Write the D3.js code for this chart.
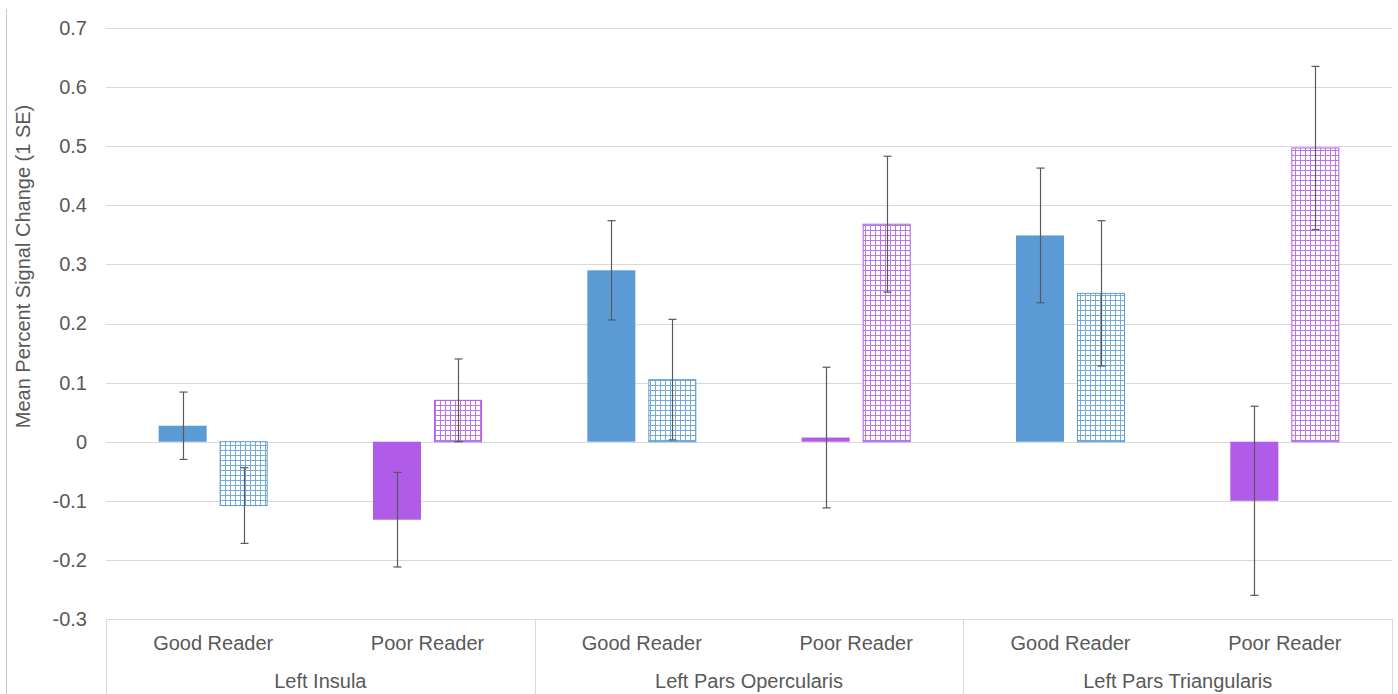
<!DOCTYPE html>
<html>
<head>
<meta charset="utf-8">
<script src="https://cdn.jsdelivr.net/npm/d3@7/dist/d3.min.js"></script>
<style>
  html, body { margin: 0; padding: 0; background: #fff; }
  svg { display: block; font-family: "Liberation Sans", Arial, sans-serif; }
</style>
</head>
<body>
<svg id="chart" width="1398" height="694"></svg>
<script>
// Regions of interest and reader groups
const regions = ["Left Insula", "Left Pars Opercularis", "Left Pars Triangularis"];
const groups = ["Good Reader", "Poor Reader"];
const conditions = ["solid", "grid"];

// Mean percent signal change, ordered region → group → condition
const means = [
  [[0.027, -0.108], [-0.132, 0.070]],
  [[0.290, 0.105], [0.007, 0.368]],
  [[0.349, 0.251], [-0.100, 0.497]]
];
// Standard errors, same ordering
const errors = [
  [[0.057, 0.064], [0.080, 0.070]],
  [[0.084, 0.102], [0.119, 0.115]],
  [[0.114, 0.123], [0.160, 0.138]]
];

const yTicks = [-0.3, -0.2, -0.1, 0, 0.1, 0.2, 0.3, 0.4, 0.5, 0.6, 0.7];

const W = 1398, H = 694;
const plot = { left: 106, right: 1392, top: 28, bottom: 619 };
const groupColor = { "Good Reader": "#5b9bd5", "Poor Reader": "#b05ce8" };
const textColor = "#595959";
const gridColor = "#d9d9d9";
const fontSize = 20;

const svg = d3.select("#chart");

// Grid fill patterns for the second condition
const defs = svg.append("defs");
groups.forEach((g, i) => {
  const p = defs.append("pattern")
    .attr("id", "grid" + i)
    .attr("patternUnits", "userSpaceOnUse")
    .attr("width", 5).attr("height", 5);
  p.append("rect").attr("width", 5).attr("height", 5).attr("fill", "#fff");
  p.append("path")
    .attr("d", "M0,0.5H5M0.5,0V5")
    .attr("stroke", groupColor[g])
    .attr("stroke-opacity", 0.85)
    .attr("stroke-width", 1)
    .attr("shape-rendering", "crispEdges");
});

const y = d3.scaleLinear().domain([-0.3, 0.7]).range([plot.bottom, plot.top]);
const xRegion = d3.scaleBand().domain(regions).range([plot.left, plot.right]);
const xGroup = d3.scaleBand().domain(groups).range([0, xRegion.bandwidth()]);
const gw = xGroup.bandwidth();
const xCond = d3.scaleBand().domain(conditions)
  .range([gw / 2 - 54.5, gw / 2 + 54.5]).paddingInner(0.213);

// Outer left border of the chart area
svg.append("line")
  .attr("x1", 6.5).attr("x2", 6.5).attr("y1", 9).attr("y2", H)
  .attr("stroke", "#c8c8c8").attr("stroke-width", 1);

// Horizontal gridlines
svg.append("g").selectAll("line")
  .data(yTicks.filter(t => t !== -0.3))
  .join("line")
  .attr("x1", plot.left).attr("x2", plot.right)
  .attr("y1", d => Math.round(y(d)) + 0.5).attr("y2", d => Math.round(y(d)) + 0.5)
  .attr("stroke", gridColor).attr("stroke-width", 1);

// Y axis tick labels (plain hyphen for negatives)
const yAxis = d3.axisLeft(y).tickValues(yTicks).tickSize(0).tickPadding(0)
  .tickFormat(d => d === 0 ? "0" : d3.format(".1f")(d).replace("\u2212", "-"));
const yg = svg.append("g").attr("transform", `translate(${plot.left - 19},0)`).call(yAxis);
yg.select(".domain").remove();
yg.selectAll("text")
  .attr("fill", textColor).attr("font-size", fontSize)
  .attr("font-family", "Liberation Sans, Arial, sans-serif");

// Y axis title
svg.append("text")
  .attr("transform", `translate(30,${(plot.top + plot.bottom) / 2 - 57}) rotate(-90)`)
  .attr("text-anchor", "middle")
  .attr("fill", textColor).attr("font-size", fontSize)
  .text("Mean Percent Signal Change (1 SE)");

// Bars and error bars
const rows = [];
regions.forEach((r, ri) => groups.forEach((g, gi) => conditions.forEach((c, ci) => {
  rows.push({ region: r, group: g, gi, cond: c, ci, v: means[ri][gi][ci], se: errors[ri][gi][ci] });
})));

const xPos = d => xRegion(d.region) + xGroup(d.group) + xCond(d.cond);
const bw = xCond.bandwidth();

svg.append("g").selectAll("rect")
  .data(rows)
  .join("rect")
  .attr("x", d => xPos(d) + (d.ci === 1 ? 0.5 : 0))
  .attr("y", d => y(Math.max(0, d.v)))
  .attr("width", d => bw - (d.ci === 1 ? 1 : 0))
  .attr("height", d => Math.abs(y(d.v) - y(0)))
  .attr("fill", d => d.ci === 0 ? groupColor[d.group] : `url(#grid${d.gi})`)
  .attr("stroke", d => d.ci === 1 ? groupColor[d.group] : "none")
  .attr("stroke-width", 1);

const eb = svg.append("g").attr("stroke", "#595959").attr("stroke-width", 1.2);
rows.forEach(d => {
  const cx = Math.round(xPos(d) + bw / 2) + 0.5;
  const y1 = y(d.v + d.se), y2 = y(d.v - d.se);
  eb.append("line").attr("x1", cx).attr("x2", cx).attr("y1", y1).attr("y2", y2);
  eb.append("line").attr("x1", cx - 4).attr("x2", cx + 4).attr("y1", y1).attr("y2", y1);
  eb.append("line").attr("x1", cx - 4).attr("x2", cx + 4).attr("y1", y2).attr("y2", y2);
});

// Category axis: baseline and region separators
const axisG = svg.append("g").attr("stroke", gridColor).attr("stroke-width", 1);
axisG.append("line")
  .attr("x1", plot.left).attr("x2", plot.right)
  .attr("y1", plot.bottom + 0.5).attr("y2", plot.bottom + 0.5);
const seps = regions.map(r => xRegion(r)).concat([plot.right]);
axisG.selectAll(".sep").data(seps).join("line")
  .attr("x1", d => Math.round(d) + 0.5).attr("x2", d => Math.round(d) + 0.5)
  .attr("y1", plot.bottom).attr("y2", H);

// Group labels
const lab = svg.append("g").attr("fill", textColor).attr("font-size", fontSize).attr("text-anchor", "middle");
regions.forEach(r => groups.forEach(g => {
  lab.append("text")
    .attr("x", xRegion(r) + xGroup(g) + gw / 2)
    .attr("y", 650)
    .text(g);
}));
// Region labels
regions.forEach(r => {
  lab.append("text")
    .attr("x", xRegion(r) + xRegion.bandwidth() / 2)
    .attr("y", 688)
    .text(r);
});
</script>
</body>
</html>
